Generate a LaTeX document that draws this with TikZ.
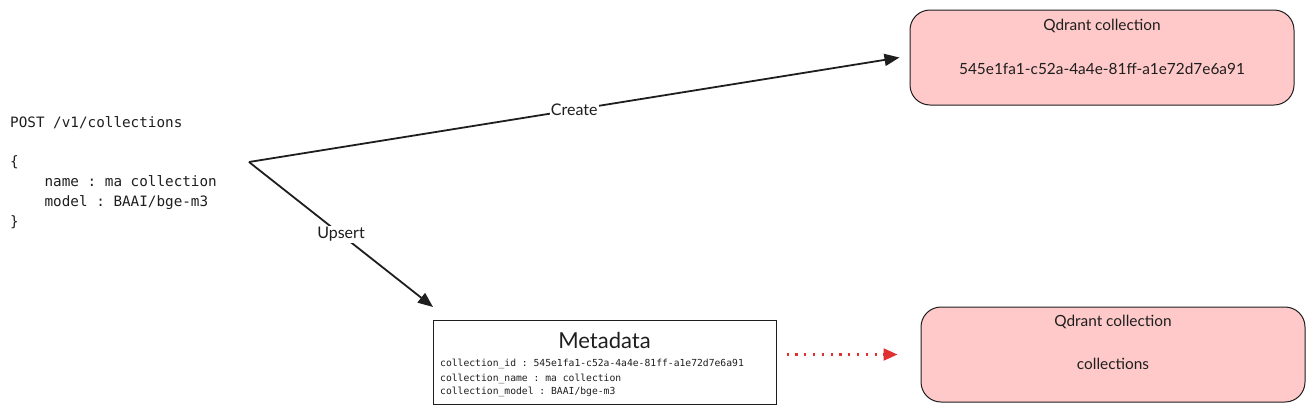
\documentclass[tikz,border=0pt]{standalone}
\usepackage{fontspec}
\setmainfont{Lato}
\setsansfont{Lato}
\setmonofont{DejaVu Sans Mono}
\usetikzlibrary{arrows.meta,calc}
\definecolor{ink}{HTML}{1E1E1E}
\definecolor{pinkfill}{HTML}{FFC9C9}
\definecolor{redline}{HTML}{E03131}
\tikzset{
  qbox/.style={draw=ink, line width=1pt, fill=pinkfill, rounded corners=20pt,
    minimum width=384pt, minimum height=95pt, inner sep=0pt},
  qtext/.style={text=ink, font=\fontsize{15.4}{18}\selectfont, inner sep=0pt},
  conn/.style={draw=ink, line width=1.8pt, -{Triangle[length=15pt,width=12pt]}},
  lbl/.style={fill=white, text=ink, font=\fontsize{16}{18}\selectfont, inner sep=1pt},
  metatext/.style={text=ink, font=\ttfamily\fontsize{9.7}{13.5}\selectfont, inner sep=0pt, anchor=base west},
}
\begin{document}
\begin{tikzpicture}[x=1pt,y=-1pt]
\useasboundingbox (0,0) rectangle (1314,413);
% request text
\node[anchor=north west, inner sep=0pt, align=left, text=ink,
      font=\ttfamily\fontsize{14.3}{19.8}\selectfont] (req) at (10,116)
  {POST /v1/collections\\[19.8pt]
   \{\\
   \phantom{xxxx}name : ma collection\\
   \phantom{xxxx}model : BAAI/bge-m3\\
   \}};
\coordinate (src) at (249,162);
% qdrant boxes
\node[qbox] (q1) at (1102,57.5) {};
\node[qtext] (q1t) at (1102,26) {Qdrant collection};
\node[qtext] (q1id) at (1102,69) {545e1fa1-c52a-4a4e-81ff-a1e72d7e6a91};
\node[qbox] (q2) at (1113,354.5) {};
\node[qtext] (q2t) at (1113,322) {Qdrant collection};
\node[qtext] (q2c) at (1113,364) {collections};
% metadata box
\node[draw=ink, line width=1pt, minimum width=343pt, minimum height=84pt, inner sep=0pt] (meta) at (604.5,362) {};
\node[text=ink, font=\fontsize{22}{26}\selectfont, inner sep=0pt] (metat) at (604.5,340) {Metadata};
\node[metatext] (m1) at (440,366.5) {collection\_id : 545e1fa1-c52a-4a4e-81ff-a1e72d7e6a91};
\node[metatext] (m2) at (440,381) {collection\_name : ma collection};
\node[metatext] (m3) at (440,394.5) {collection\_model : BAAI/bge-m3};
\coordinate (upend) at (433,307);
% connectors
\draw[conn] (src) -- node[lbl] (create) {Create} ([xshift=-10pt]q1.west);
\draw[conn] (src) -- node[lbl] (upsert) {Upsert} (upend);
\draw[redline, line width=2.2pt, dash pattern=on 2.2pt off 6.6pt,
      -{Triangle[length=14pt,width=12pt]}]
  ([xshift=10pt]meta.east |- q2.west) -- ([xshift=-23pt]q2.west);
\end{tikzpicture}
\end{document}
